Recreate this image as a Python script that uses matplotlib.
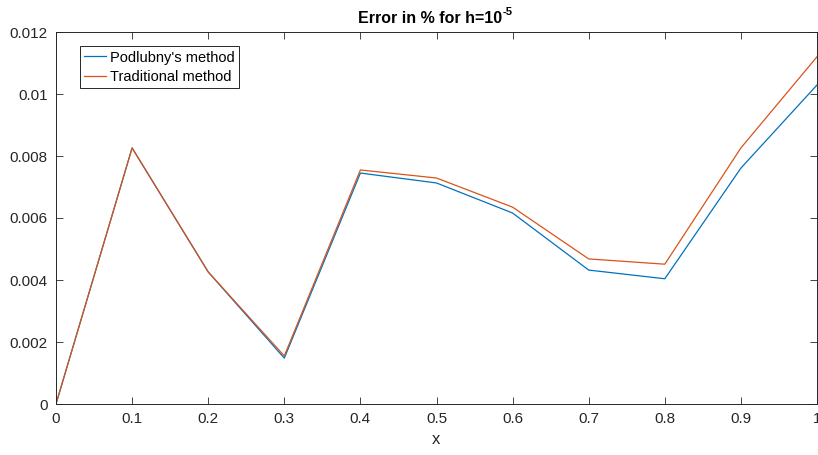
import matplotlib
matplotlib.use("Agg")
import matplotlib.pyplot as plt
from matplotlib.transforms import offset_copy

plt.rcParams['font.family'] = ['Liberation Sans', 'DejaVu Sans']

# Error values for both methods on the grid x = 0 .. 1
x = [0, 0.1, 0.2, 0.3, 0.4, 0.5, 0.6, 0.7, 0.8, 0.9, 1.0]
podlubny = [0, 0.00826, 0.00426, 0.00148, 0.00745, 0.00713, 0.00616, 0.00432, 0.00404, 0.00761, 0.01029]
traditional = [0, 0.00826, 0.00426, 0.00155, 0.00755, 0.00729, 0.00635, 0.00468, 0.00451, 0.00826, 0.0112]

xticks = [0, 0.1, 0.2, 0.3, 0.4, 0.5, 0.6, 0.7, 0.8, 0.9, 1]
xticklabels = ['0', '0.1', '0.2', '0.3', '0.4', '0.5', '0.6', '0.7', '0.8', '0.9', '1']
yticks = [0, 0.002, 0.004, 0.006, 0.008, 0.01, 0.012]
yticklabels = ['0', '0.002', '0.004', '0.006', '0.008', '0.01', '0.012']

fig = plt.figure(figsize=(8.18, 4.55), dpi=100)
ax = fig.add_axes([56 / 818, 1 - 404 / 455, 761 / 818, 372 / 455])

ax.plot(x, podlubny, color='#0072BD', lw=0.9, label="Podlubny's method")
ax.plot(x, traditional, color='#D95319', lw=0.9, label='Traditional method')

ax.set_xlim(0, 1)
ax.set_ylim(0, 0.012)
ax.set_xticks(xticks)
ax.set_xticklabels(xticklabels)
ax.set_yticks(yticks)
ax.set_yticklabels(yticklabels)
ax.tick_params(direction='in', top=True, right=True, length=5, width=0.6,
               labelsize=11, colors='#262626', pad=6)
for s in ax.spines.values():
    s.set_color('#262626')
    s.set_linewidth(0.7)

ax.set_xlabel('x', fontsize=12, color='#262626', labelpad=4)

# title with a plain "-5" exponent drawn as a raised small text
base = ax.text(0.5, 1.0, 'Error in % for h=10', transform=offset_copy(ax.transAxes, fig, x=-6, y=6, units='dots'),
               ha='center', va='bottom', fontsize=11.5, fontweight='bold')
fig.canvas.draw()
bb = base.get_window_extent()
fig.text(bb.x1 / fig.bbox.width, (bb.y0 + 9) / fig.bbox.height, '-5',
         ha='left', va='bottom', fontsize=8, fontweight='bold')

leg = ax.legend(loc='upper left', bbox_to_anchor=(0.0315, 0.962), fontsize=10.5,
                fancybox=False, framealpha=1, edgecolor='#262626', borderaxespad=0,
                handlelength=1.5, handletextpad=0.25, borderpad=0.3, labelspacing=0.35)
leg.get_frame().set_linewidth(0.7)

fig.savefig('out.png', dpi=100)
